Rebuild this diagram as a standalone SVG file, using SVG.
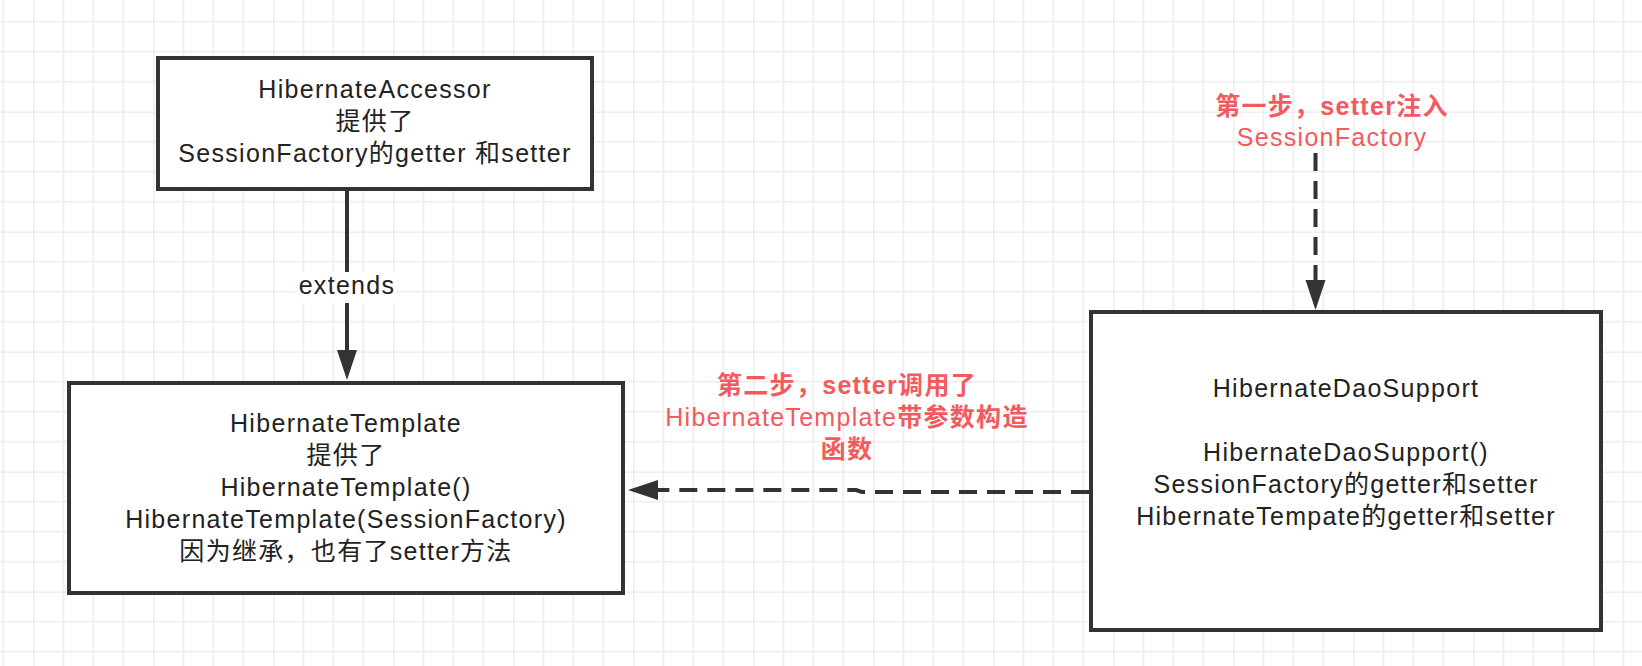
<svg xmlns="http://www.w3.org/2000/svg" width="1642" height="666" viewBox="0 0 1642 666">
  <style>
    .box { fill: #ffffff; stroke: #333333; stroke-width: 4; }
    .t { font-family: "Liberation Sans", "Noto Sans CJK SC", sans-serif; font-size: 25px; fill: #222222; text-anchor: middle; letter-spacing: 1.3px; }
    .red { fill: #f35a5e; }
    .b { font-weight: bold; }
    .edge { fill: none; stroke: #333333; stroke-width: 4; }
    .dash { stroke-dasharray: 18 10; }
  </style>
  <defs>
    <pattern id="grid" patternUnits="userSpaceOnUse" x="33.33" y="111.67" width="120" height="120">
      <path d="M30,0 V120 M60,0 V120 M90,0 V120 M0,30 H120 M0,60 H120 M0,90 H120" stroke="#f0f0f0" stroke-width="2" fill="none"/>
      <path d="M0,0 V120 M0,0 H120" stroke="#e5e5e5" stroke-width="2" fill="none"/>
    </pattern>
    <marker id="arrow" markerUnits="userSpaceOnUse" markerWidth="32" markerHeight="22" refX="0" refY="10" orient="auto" overflow="visible">
      <path d="M0,0 L30,10 L0,20 Z" fill="#333333"/>
    </marker>
  </defs>

  <rect x="0" y="0" width="1642" height="666" fill="#ffffff"/>
  <rect x="0" y="0" width="1642" height="666" fill="url(#grid)"/>

  <g id="connectors">
    <line class="edge" x1="347" y1="190" x2="347" y2="350" marker-end="url(#arrow)"/>
    <rect x="295" y="272" width="101" height="31" fill="#ffffff"/>
    <text class="t" x="347" y="294">extends</text>
    <line class="edge dash" x1="1315.5" y1="153" x2="1315.5" y2="280" marker-end="url(#arrow)"/>
    <path class="edge dash" d="M1089,492 L862,492 L856,490 L658,490" marker-end="url(#arrow)"/>
  </g>

  <g id="label-step1">
    <text class="t red" x="1332" y="115"><tspan class="b">第一步，setter注入</tspan></text>
    <text class="t red" x="1332" y="146">SessionFactory</text>
  </g>

  <g id="label-step2">
    <text class="t red b" x="847" y="394">第二步，setter调用了</text>
    <text class="t red" x="847" y="426">HibernateTemplate<tspan class="b">带参数构造</tspan></text>
    <text class="t red b" x="847" y="458">函数</text>
  </g>

  <g id="node-accessor">
    <rect class="box" x="158" y="58" width="434" height="131"/>
    <text class="t" x="375" y="98">HibernateAccessor</text>
    <text class="t" x="375" y="130">提供了</text>
    <text class="t" x="375" y="162">SessionFactory的getter 和setter</text>
  </g>

  <g id="node-template">
    <rect class="box" x="69" y="383" width="554" height="210"/>
    <text class="t" x="346" y="432">HibernateTemplate</text>
    <text class="t" x="346" y="464">提供了</text>
    <text class="t" x="346" y="496">HibernateTemplate()</text>
    <text class="t" x="346" y="528">HibernateTemplate(SessionFactory)</text>
    <text class="t" x="346" y="560">因为继承，也有了setter方法</text>
  </g>

  <g id="node-daosupport">
    <rect class="box" x="1091" y="312" width="510" height="318"/>
    <text class="t" x="1346" y="397">HibernateDaoSupport</text>
    <text class="t" x="1346" y="461">HibernateDaoSupport()</text>
    <text class="t" x="1346" y="493">SessionFactory的getter和setter</text>
    <text class="t" x="1346" y="525">HibernateTempate的getter和setter</text>
  </g>
</svg>
